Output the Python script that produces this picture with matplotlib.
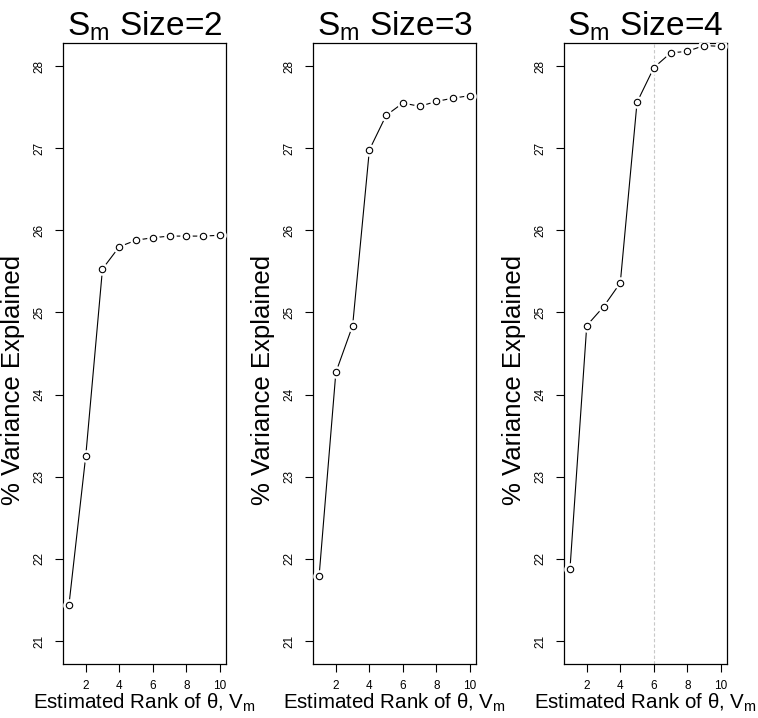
import matplotlib
matplotlib.use("Agg")
import matplotlib.pyplot as plt
import numpy as np

plt.rcParams['font.family'] = ['Liberation Sans', 'DejaVu Sans']
plt.rcParams['mathtext.default'] = 'regular'

# data
ranks = [1, 2, 3, 4, 5, 6, 7, 8, 9, 10]
var_size2 = [21.44, 23.25, 25.53, 25.80, 25.88, 25.91, 25.93, 25.93, 25.93, 25.94]
var_size3 = [21.79, 24.27, 24.84, 26.98, 27.40, 27.55, 27.51, 27.57, 27.61, 27.64]
var_size4 = [21.88, 24.84, 25.07, 25.36, 27.56, 27.98, 28.16, 28.18, 28.25, 28.24]
sizes = [2, 3, 4]
chosen_rank = [None, None, 6]   # dashed line only on last panel

series = [var_size2, var_size3, var_size4]
xticks = [2, 4, 6, 8, 10]
yticks = [21, 22, 23, 24, 25, 26, 27, 28]

fig = plt.figure(figsize=(7.58, 7.18), dpi=100)
lefts = [0.083, 0.413, 0.744]
w = 0.215
bottom, top = 0.0752, 0.940

for i in range(3):
    ax = fig.add_axes([lefts[i], bottom, w, top - bottom])
    y = series[i]
    if chosen_rank[i] is not None:
        ax.axvline(chosen_rank[i], color='#c8c8c8', lw=0.8, ls=(0, (3, 2)), zorder=1)
    # R type="b": line with gaps round the points
    ax.plot(ranks, y, color='black', lw=0.8, zorder=2)
    ax.plot(ranks, y, ls='none', marker='o', ms=9, mfc='white', mec='white', mew=0, zorder=3)
    ax.plot(ranks, y, ls='none', marker='o', ms=4.6, mfc='white', mec='black', mew=0.8, zorder=4)

    ax.set_xlim(0.64, 10.36)
    ax.set_ylim(20.72, 28.28)
    ax.set_xticks(xticks)
    ax.set_yticks(yticks)
    ax.tick_params(axis='both', direction='out', length=5.5, width=0.8, labelsize=8.5)
    ax.tick_params(axis='x', pad=6)
    ax.tick_params(axis='y', pad=7)
    for lab in ax.get_yticklabels():
        lab.set_rotation(90)
        lab.set_va('center')
    for s in ax.spines.values():
        s.set_linewidth(0.9)

    ax.set_title('$S_m$ Size=%d' % sizes[i], fontsize=24, pad=3)
    ax.set_ylabel('% Variance Explained', fontsize=18.5)
    ax.yaxis.set_label_coords(-0.235, 0.457)
    ax.set_xlabel('Estimated Rank of \u03b8, $V_m$', fontsize=14.8, labelpad=0)

fig.savefig('out.png', dpi=100)
